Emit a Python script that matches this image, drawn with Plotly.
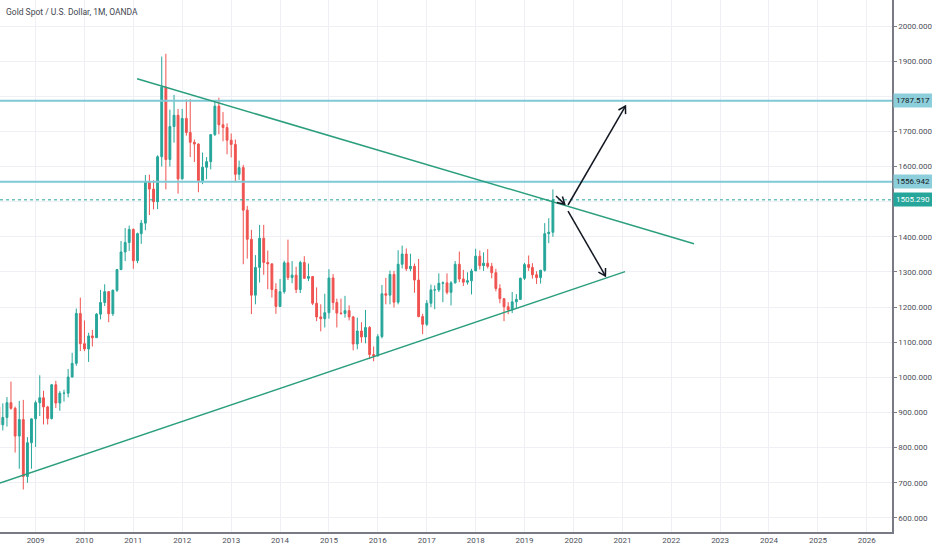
import math
import pandas as pd
import plotly.graph_objects as go

# monthly XAU/USD candles, Apr 2008 .. Aug 2019
opens = [916, 865, 886, 928, 912, 833, 880, 718, 814,
         882, 928, 942, 916, 883, 979, 927, 955, 955, 1001, 1040, 1182,
         1096, 1081, 1118, 1113, 1180, 1213, 1244, 1181, 1248, 1307, 1357, 1384,
         1421, 1332, 1409, 1439, 1556, 1536, 1500, 1628, 1826, 1620, 1714, 1746,
         1565, 1737, 1697, 1669, 1664, 1560, 1598, 1614, 1691, 1772, 1719, 1711,
         1675, 1663, 1578, 1597, 1476, 1393, 1234, 1313, 1396, 1327, 1323, 1250,
         1202, 1244, 1326, 1284, 1291, 1250, 1327, 1282, 1287, 1211, 1172, 1167,
         1184, 1283, 1213, 1183, 1182, 1190, 1172, 1095, 1132, 1115, 1142, 1065,
         1061, 1116, 1238, 1234, 1293, 1214, 1322, 1351, 1309, 1316, 1277, 1173,
         1151, 1211, 1249, 1249, 1268, 1269, 1242, 1269, 1322, 1280, 1271, 1275,
         1303, 1345, 1318, 1325, 1316, 1298, 1253, 1224, 1201, 1192, 1215, 1222,
         1282, 1321, 1313, 1292, 1284, 1305, 1409, 1413]
highs = [933, 926, 944, 988, 917, 933, 936, 830, 881,
         934, 1006, 962, 919, 981, 990, 961, 965, 1024, 1070, 1196, 1227,
         1162, 1127, 1135, 1183, 1249, 1265, 1245, 1250, 1308, 1388, 1425, 1432,
         1424, 1412, 1448, 1576, 1577, 1561, 1632, 1913, 1921, 1762, 1804, 1764,
         1764, 1791, 1792, 1677, 1666, 1640, 1627, 1691, 1787, 1796, 1755, 1723,
         1694, 1677, 1617, 1605, 1488, 1420, 1348, 1434, 1434, 1361, 1325, 1268,
         1280, 1332, 1392, 1331, 1315, 1332, 1345, 1324, 1287, 1256, 1208, 1238,
         1308, 1294, 1224, 1224, 1232, 1205, 1175, 1170, 1157, 1192, 1146, 1088,
         1123, 1263, 1283, 1304, 1303, 1362, 1375, 1367, 1352, 1324, 1337, 1181,
         1220, 1264, 1262, 1296, 1273, 1296, 1274, 1331, 1358, 1306, 1299, 1309,
         1366, 1361, 1356, 1365, 1326, 1309, 1265, 1225, 1214, 1243, 1237, 1284,
         1326, 1347, 1325, 1302, 1306, 1439, 1453, 1535]
lows = [864, 849, 860, 908, 786, 740, 681, 700, 740,
        802, 890, 866, 866, 880, 913, 905, 931, 943, 1000, 1033, 1075,
        1075, 1044, 1088, 1113, 1165, 1203, 1157, 1175, 1243, 1305, 1331, 1360,
        1309, 1325, 1380, 1419, 1462, 1478, 1479, 1600, 1535, 1600, 1668, 1523,
        1563, 1688, 1627, 1613, 1527, 1550, 1564, 1592, 1687, 1692, 1672, 1635,
        1626, 1555, 1562, 1322, 1338, 1180, 1208, 1270, 1292, 1251, 1227, 1181,
        1200, 1238, 1277, 1268, 1240, 1240, 1280, 1274, 1206, 1160, 1131, 1142,
        1167, 1192, 1142, 1178, 1170, 1162, 1077, 1080, 1099, 1097, 1052, 1046,
        1060, 1111, 1208, 1208, 1199, 1208, 1310, 1303, 1302, 1241, 1171, 1123,
        1146, 1200, 1194, 1243, 1214, 1236, 1205, 1267, 1271, 1260, 1264, 1236,
        1303, 1307, 1303, 1310, 1282, 1245, 1211, 1160, 1180, 1183, 1196, 1221,
        1277, 1303, 1281, 1266, 1267, 1301, 1382, 1400]
closes = [865, 886, 928, 912, 833, 880, 718, 814, 882,
          928, 942, 916, 883, 979, 927, 955, 955, 1001, 1040, 1182, 1096,
          1081, 1118, 1113, 1180, 1213, 1244, 1181, 1248, 1307, 1357, 1384, 1421,
          1332, 1409, 1439, 1556, 1536, 1500, 1628, 1826, 1620, 1714, 1746, 1565,
          1737, 1697, 1669, 1664, 1560, 1598, 1614, 1691, 1772, 1719, 1711, 1675,
          1663, 1578, 1597, 1476, 1393, 1234, 1313, 1396, 1327, 1323, 1250, 1202,
          1244, 1326, 1284, 1291, 1250, 1327, 1282, 1287, 1211, 1172, 1167, 1184,
          1283, 1213, 1183, 1182, 1190, 1172, 1095, 1132, 1115, 1142, 1065, 1061,
          1116, 1238, 1234, 1293, 1214, 1322, 1351, 1309, 1316, 1277, 1173, 1151,
          1211, 1249, 1249, 1268, 1269, 1242, 1269, 1322, 1280, 1271, 1275, 1303,
          1345, 1318, 1325, 1316, 1298, 1253, 1224, 1201, 1192, 1215, 1222, 1282,
          1321, 1313, 1292, 1284, 1305, 1409, 1413, 1505.29]
months = pd.date_range('2008-04-01', periods=len(opens), freq='MS')

# drawings on the chart
h_levels = [1787.517, 1556.942]
last_price = 1505.290
upper_trend = [('2011-01-29', 1850), ('2022-06-20', 1380.5)]
lower_trend = [('2008-04-10', 699), ('2021-01-21', 1301)]
arrows = [
    [('2019-11-22', 1490.6), ('2021-01-24', 1772)],
    [('2019-11-22', 1473.5), ('2020-08-27', 1288.6)],
    [('2019-08-24', 1516), ('2019-10-28', 1493)],
]

x_range = ['2008-04-10', '2026-07-08']
y_range = [560, 2074]
W, H = 892, 532  # plot area in px

up_col = '#26a69a'
dn_col = '#ef5350'
trend_col = '#2b9e7e'
level_col = '#7fc9d6'

fig = go.Figure()
fig.add_trace(go.Candlestick(
    x=months, open=opens, high=highs, low=lows, close=closes,
    increasing=dict(line=dict(color=up_col, width=1), fillcolor=up_col),
    decreasing=dict(line=dict(color=dn_col, width=1), fillcolor=dn_col),
    showlegend=False, hoverinfo='skip'))

shapes = []
for lv in h_levels:
    shapes.append(dict(type='line', xref='paper', x0=0, x1=1, yref='y', y0=lv, y1=lv,
                       line=dict(color=level_col, width=2)))
shapes.append(dict(type='line', xref='paper', x0=0, x1=1, yref='y', y0=last_price, y1=last_price,
                   line=dict(color=up_col, width=1, dash='dot')))
for seg in (upper_trend, lower_trend):
    shapes.append(dict(type='line', xref='x', yref='y',
                       x0=seg[0][0], y0=seg[0][1], x1=seg[1][0], y1=seg[1][1],
                       line=dict(color=trend_col, width=1.5)))

# px scale, to orient the open arrow heads
t0 = pd.Timestamp(x_range[0])
span_days = (pd.Timestamp(x_range[1]) - t0).days
def to_px(d, p):
    return ((pd.Timestamp(d) - t0).days / span_days * W,
            (p - y_range[0]) / (y_range[1] - y_range[0]) * H)

for (tail, head) in arrows:
    shapes.append(dict(type='line', xref='x', yref='y',
                       x0=tail[0], y0=tail[1], x1=head[0], y1=head[1],
                       line=dict(color='#131722', width=1.5)))
    (tx, ty), (hx, hy) = to_px(*tail), to_px(*head)
    ang = math.atan2(hy - ty, hx - tx)
    L = 8
    pts = []
    for da in (2.6, -2.6):
        pts.append((L * math.cos(ang + da), L * math.sin(ang + da)))
    path = 'M %.2f,%.2f L 0,0 L %.2f,%.2f' % (pts[0][0], pts[0][1], pts[1][0], pts[1][1])
    shapes.append(dict(type='path', xref='x', yref='y', xsizemode='pixel', ysizemode='pixel',
                       xanchor=head[0], yanchor=head[1], path=path,
                       line=dict(color='#131722', width=1.5)))

annotations = [dict(xref='paper', yref='paper', x=0, y=1, xanchor='left', yanchor='top',
                    xshift=4, yshift=-5, showarrow=False,
                    text='Gold Spot / U.S. Dollar, 1M, OANDA',
                    font=dict(family='Roboto', size=8.5, color='#434651'))]
for lv in h_levels:
    annotations.append(dict(xref='paper', yref='y', x=1, y=lv, xanchor='left', yanchor='middle',
                            xshift=1, showarrow=False, text='%.3f' % lv,
                            bgcolor='#8ccfdb', borderpad=2,
                            font=dict(family='Roboto', size=8, color='#131722')))
annotations.append(dict(xref='paper', yref='y', x=1, y=last_price, xanchor='left', yanchor='middle',
                        xshift=1, showarrow=False, text='%.3f' % last_price,
                        bgcolor=up_col, borderpad=2,
                        font=dict(family='Roboto', size=8, color='#ffffff')))

fig.update_layout(
    width=932, height=550,
    margin=dict(l=0, r=40, t=0, b=18),
    paper_bgcolor='white', plot_bgcolor='white',
    shapes=shapes, annotations=annotations,
    xaxis=dict(type='date', range=x_range, rangeslider=dict(visible=False),
               tickmode='linear', tick0='2009-01-01', dtick='M12', tickformat='%Y',
               showgrid=True, gridcolor='#eef0f5', gridwidth=1,
               showline=True, linecolor='#787b86', linewidth=1.5,
               ticks='', tickfont=dict(family='Roboto', size=8, color='#4c4f59'),
               zeroline=False, fixedrange=True),
    yaxis=dict(side='right', range=y_range, dtick=100, tick0=0, tickformat='.3f',
               showgrid=True, gridcolor='#eef0f5', gridwidth=1,
               showline=True, linecolor='#787b86', linewidth=1.5, mirror=False,
               ticks='outside', ticklen=3, tickcolor='#787b86',
               tickfont=dict(family='Roboto', size=8, color='#4c4f59'),
               zeroline=False, fixedrange=True),
)

fig.write_html("out.html", config={'displayModeBar': False},
               post_script="document.body.style.margin='0';document.body.style.overflow='hidden';")
